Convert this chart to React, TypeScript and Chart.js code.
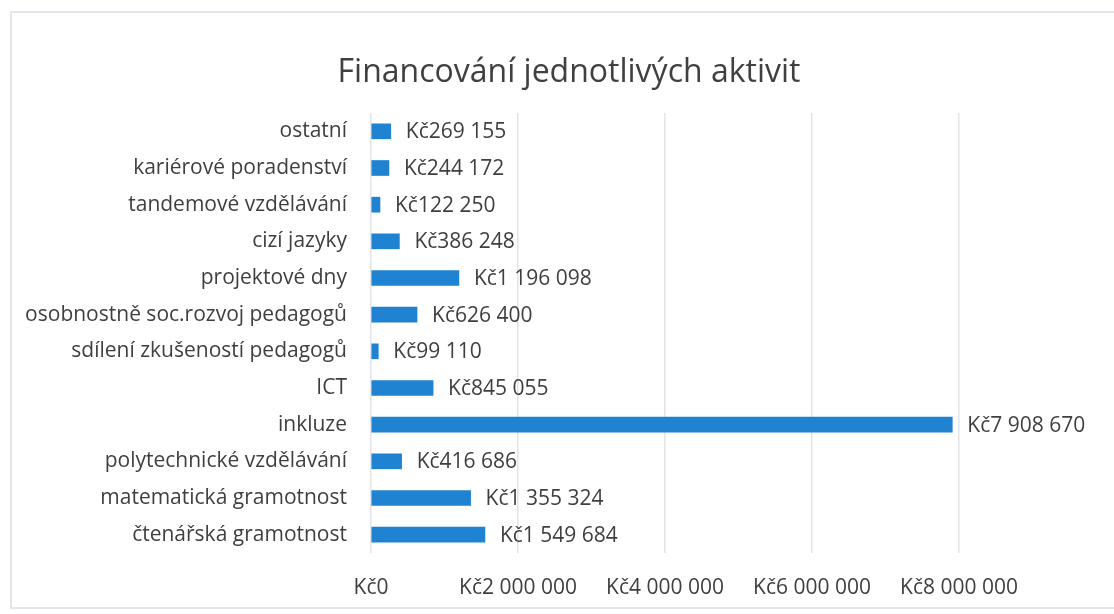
import React, { useEffect, useRef } from "react";
import { Chart, registerables } from "chart.js";

Chart.register(...registerables);

const titleText = "Financování jednotlivých aktivit";

const categories = [
  "ostatní",
  "kariérové poradenství",
  "tandemové vzdělávání",
  "cizí jazyky",
  "projektové dny",
  "osobnostně soc.rozvoj pedagogů",
  "sdílení zkušeností pedagogů",
  "ICT",
  "inkluze",
  "polytechnické vzdělávání",
  "matematická gramotnost",
  "čtenářská gramotnost",
];

const values = [
  269155, 244172, 122250, 386248, 1196098, 626400, 99110, 845055, 7908670,
  416686, 1355324, 1549684,
];

const axisMin = 0;
const axisMax = 8000000;
const axisStep = 2000000;

const FONT = "'Open Sans', 'Noto Sans', sans-serif";
const TEXT = "#3f3f3f";
const BAR = "#1f83d2";
const GRID = "#e3e3ea";

function formatKc(v: number): string {
  return "Kč" + String(Math.round(v)).replace(/\B(?=(\d{3})+(?!\d))/g, " ");
}

const frameAndLabels = {
  id: "frameAndLabels",
  beforeDraw(chart: any) {
    const ctx = chart.ctx;
    ctx.save();
    ctx.fillStyle = "#ffffff";
    ctx.fillRect(0, 0, chart.width, chart.height);
    ctx.strokeStyle = "#e4e4ec";
    ctx.lineWidth = 2;
    ctx.beginPath();
    ctx.moveTo(chart.width, 12);
    ctx.lineTo(11, 12);
    ctx.lineTo(11, 608);
    ctx.lineTo(chart.width, 608);
    ctx.stroke();
    ctx.font = `32px ${FONT}`;
    ctx.fillStyle = "#404040";
    ctx.textAlign = "center";
    ctx.textBaseline = "middle";
    ctx.fillText(titleText, 569, 73);
    ctx.restore();
  },
  afterDatasetsDraw(chart: any) {
    const ctx = chart.ctx;
    const meta = chart.getDatasetMeta(0);
    ctx.save();
    ctx.font = `21px ${FONT}`;
    ctx.fillStyle = TEXT;
    ctx.textAlign = "left";
    ctx.textBaseline = "middle";
    meta.data.forEach((bar: any, i: number) => {
      ctx.fillText(formatKc(values[i]), bar.x + 15, bar.y + 1);
    });
    ctx.restore();
  },
};

export default function App() {
  const ref = useRef<HTMLCanvasElement | null>(null);

  useEffect(() => {
    if (!ref.current) return;
    const chart = new Chart(ref.current, {
      type: "bar",
      data: {
        labels: categories,
        datasets: [
          {
            data: values,
            backgroundColor: BAR,
            borderWidth: 0,
            barThickness: 15,
          },
        ],
      },
      options: {
        indexAxis: "y",
        responsive: false,
        animation: false,
        layout: { padding: { left: 11, top: 113, right: 155, bottom: 13 } },
        plugins: {
          legend: { display: false },
          tooltip: { enabled: false },
          title: { display: false },
        },
        scales: {
          x: {
            type: "linear",
            min: axisMin,
            max: axisMax,
            grid: { color: GRID, lineWidth: 1.5, drawTicks: false },
            border: { display: false },
            ticks: {
              stepSize: axisStep,
              color: TEXT,
              padding: 22,
              font: { family: FONT, size: 21, lineHeight: 1.2 },
              callback: (v: any) => formatKc(Number(v)),
            },
            afterFit: (scale: any) => {
              scale.height = 48;
            },
          },
          y: {
            grid: { display: false, drawTicks: false },
            border: { display: false },
            ticks: {
              color: TEXT,
              padding: 24,
              font: { family: FONT, size: 21 },
            },
            afterFit: (scale: any) => {
              scale.width = 360;
            },
          },
        },
      },
      plugins: [frameAndLabels],
    });
    return () => chart.destroy();
  }, []);

  return (
    <div style={{ position: "fixed", left: 0, top: 0, width: 1114, height: 614 }}>
      <canvas ref={ref} width={1114} height={614} />
    </div>
  );
}
